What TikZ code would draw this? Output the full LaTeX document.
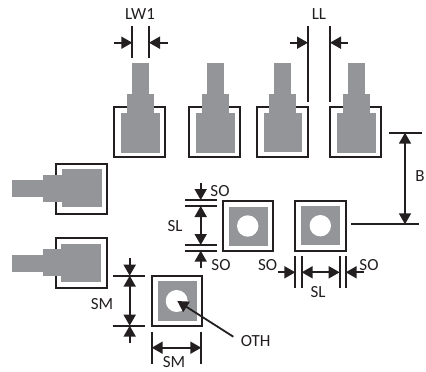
\documentclass[tikz,border=0pt]{standalone}
\usepackage{fontspec}
\setmainfont{Carlito}
\usetikzlibrary{arrows.meta}
\definecolor{padgray}{HTML}{939598}
\definecolor{inkc}{HTML}{231F20}
\tikzset{
  padbox/.style={draw=inkc,line width=2pt,fill=white},
  metal/.style={fill=padgray,draw=none},
  hole/.style={fill=white,draw=none},
  ext/.style={draw=inkc,line width=1.8pt},
  dimarrow/.style={draw=inkc,line width=1.8pt,-{Triangle[length=11pt,width=12pt]}},
  dimboth/.style={draw=inkc,line width=1.8pt,{Triangle[length=11pt,width=12pt]}-{Triangle[length=11pt,width=12pt]}},
  lbl/.style={text=inkc,font=\fontsize{17}{17}\selectfont,inner sep=0pt}
}
% x0 square left/right, narrow, mid, large x-ranges
\newcommand{\toppad}[9]{%
  \draw[padbox] (#1,107) rectangle (#2,157.3);
  \fill[metal] (#3,62.7) rectangle (#4,94);
  \fill[metal] (#5,94) rectangle (#6,113.5);
  \fill[metal] (#7,113) rectangle (#8,#9);
}
\newcommand{\leftpad}[9]{%
  \draw[padbox] (56,#1) rectangle (107,#2);
  \fill[metal] (12,#3) rectangle (43,#4);
  \fill[metal] (43,#5) rectangle (#9,#6);
  \fill[metal] (#9,#7) rectangle (#8,#7+38);
}
\begin{document}
\begin{tikzpicture}[x=1pt,y=-1pt]
\useasboundingbox (0,0) rectangle (426,372);
% top row
\toppad{114.3}{165.3}{132.3}{149}{127}{154}{121}{160}{152.7}
\toppad{189.3}{240.3}{207}{224}{202}{229}{196}{235}{152.7}
\toppad{257}{307.7}{274.3}{291}{269}{296}{264}{302}{152}
\toppad{330.3}{380.7}{348}{365}{343}{370}{337}{376}{152.7}
% left column
\leftpad{163.7}{213.7}{180}{196.7}{175}{201.7}{169}{102}{62}
\leftpad{238.3}{288}{254.7}{271.7}{249.3}{276}{244}{101}{61}
% via pads
\draw[padbox] (222.7,201) rectangle (272.7,251);
\fill[metal] (228.7,207) rectangle (268,246);
\fill[hole] (247.7,226) circle (10.7);
\draw[padbox] (295.3,200.7) rectangle (345.7,251);
\fill[metal] (301.3,206) rectangle (340,244.7);
\fill[hole] (320.3,225.7) circle (10.7);
\draw[padbox] (151.7,276) rectangle (201.7,326.3);
\fill[metal] (158.3,281) rectangle (197,321);
\fill[hole] (176.7,301) circle (11);
% LW1
\draw[ext] (132.3,26) -- (132.3,58);
\draw[ext] (149,26) -- (149,58);
\draw[dimarrow] (114.3,42.7) -- (132.3,42.7);
\draw[dimarrow] (167.7,42.7) -- (149,42.7);
\node[lbl] (lw) at (140,14) {LW1};
% LL
\draw[ext] (308,26) -- (308,101.7);
\draw[ext] (330,26) -- (330,101.7);
\draw[dimarrow] (290,42.7) -- (308,42.7);
\draw[dimarrow] (348.3,42.7) -- (330,42.7);
\node[lbl] (ll) at (319,14) {LL};
% B
\draw[ext] (389,132.7) -- (421.7,132.7);
\draw[ext] (351,224.3) -- (419.3,224.3);
\draw[dimboth] (405,132.7) -- (405,224.3);
\node[lbl] (b) at (420,176) {B};
% SO/SL vertical
\draw[ext] (185,200) -- (217.3,200);
\draw[ext] (185,206) -- (217.3,206);
\draw[ext] (185,245) -- (217.3,245);
\draw[ext] (185,250.7) -- (217.3,250.7);
\draw[dimarrow] (200.7,183) -- (200.7,200);
\draw[dimarrow] (200.7,268) -- (200.7,250.7);
\draw[dimboth] (200.7,206) -- (200.7,245);
\node[lbl] (so1) at (220,191) {SO};
\node[lbl] (so2) at (221,265) {SO};
\node[lbl] (sl1) at (175,225.7) {SL};
% SO/SL horizontal
\draw[ext] (295.3,256) -- (295.3,288);
\draw[ext] (301.7,256) -- (301.7,288);
\draw[ext] (339.7,256) -- (339.7,288);
\draw[ext] (345.7,256) -- (345.7,288);
\draw[dimarrow] (278,272.3) -- (295.3,272.3);
\draw[dimarrow] (364,272.3) -- (345.7,272.3);
\draw[dimboth] (301.7,272.3) -- (339.7,272.3);
\node[lbl] (so3) at (267.7,265) {SO};
\node[lbl] (so4) at (369,265) {SO};
\node[lbl] (sl2) at (318,292) {SL};
% SM vertical
\draw[ext] (112.7,275.7) -- (145,275.7);
\draw[ext] (112.7,325.7) -- (145,325.7);
\draw[dimarrow] (129.7,258) -- (129.7,275.7);
\draw[dimarrow] (129.7,343) -- (129.7,325.7);
\draw[dimboth] (129.7,275.7) -- (129.7,325.7);
\node[lbl] (sm1) at (102,304) {SM};
% SM horizontal
\draw[ext] (151.7,331.7) -- (151.7,364);
\draw[ext] (201.3,331.7) -- (201.3,364);
\draw[dimboth] (151.7,347.7) -- (201.3,347.7);
\node[lbl] (sm2) at (174,362.5) {SM};
% OTH
\coordinate (othtip) at (177.3,301);
\node[lbl] (oth) at (255.7,341) {OTH};
\draw[dimarrow] (233.3,336.7) -- (othtip);
\end{tikzpicture}
\end{document}
